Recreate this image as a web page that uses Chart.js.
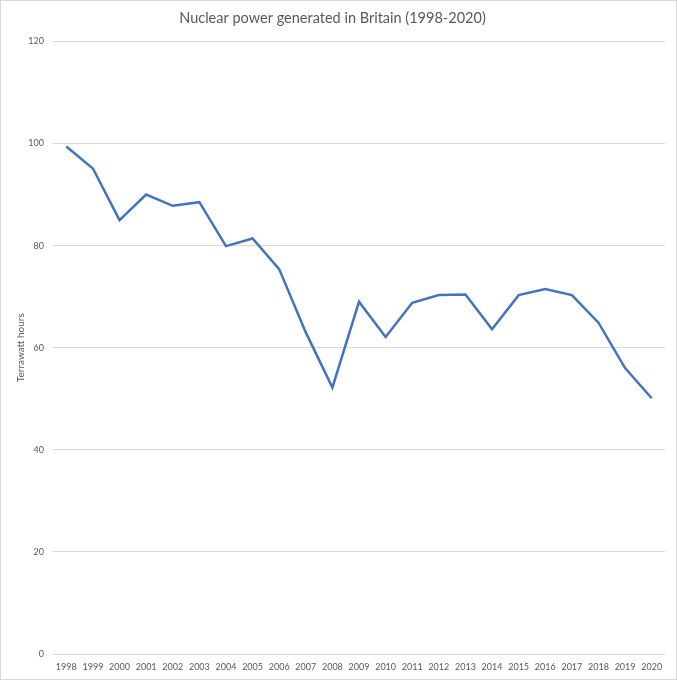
<!DOCTYPE html>
<html>
<head>
<meta charset="utf-8">
<script src="https://cdn.jsdelivr.net/npm/chart.js@4"></script>
<style>
  body { margin: 0; background: #fff; }
  .wrap { position: relative; width: 677px; height: 680px; }
  .frame { position: absolute; left: 0; top: 0; width: 677px; height: 680px; box-sizing: border-box; border: 1px solid #d9d9d9; pointer-events: none; }
</style>
</head>
<body>
<div class="wrap">
  <canvas id="chart" width="677" height="680"></canvas>
  <div class="frame"></div>
</div>
<script>
const years = ['1998', '1999', '2000', '2001', '2002', '2003', '2004', '2005', '2006', '2007', '2008',
    '2009', '2010', '2011', '2012', '2013', '2014', '2015', '2016', '2017', '2018', '2019', '2020'];
const terawattHours = [99.4, 95.1, 85.0, 90.0, 87.8, 88.5, 79.9, 81.4, 75.4, 63.0, 52.2,
    69.0, 62.1, 68.8, 70.3, 70.4, 63.6, 70.3, 71.5, 70.3, 64.9, 56.0, 50.1];
const yTicks = [0, 20, 40, 60, 80, 100, 120];

const fontFamily = 'Lato, "Open Sans", sans-serif';
const textColor = '#595959';

new Chart(document.getElementById('chart').getContext('2d'), {
    type: 'line',
    data: {
        labels: years,
        datasets: [{
            label: 'Nuclear power',
            data: terawattHours,
            borderColor: '#4472c4',
            borderWidth: 2.5,
            pointRadius: 0,
            tension: 0,
            fill: false
        }]
    },
    options: {
        responsive: false,
        animation: false,
        layout: { padding: { left: 0, right: 12, top: 8, bottom: 6 } },
        plugins: {
            legend: { display: false },
            tooltip: { enabled: false },
            title: {
                display: true,
                text: 'Nuclear power generated in Britain (1998-2020)',
                color: textColor,
                font: { family: fontFamily, size: 14.5, weight: 'normal' },
                padding: { top: 2, bottom: 14 }
            }
        },
        scales: {
            x: {
                offset: true,
                grid: { display: false, drawTicks: false },
                border: { display: false },
                ticks: {
                    color: textColor,
                    font: { family: fontFamily, size: 9 },
                    maxRotation: 0,
                    autoSkip: false,
                    padding: 8
                },
                afterFit: scale => { scale.height = 20; }
            },
            y: {
                min: 0,
                max: 120,
                afterBuildTicks: scale => { scale.ticks = yTicks.map(v => ({ value: v })); },
                grid: { color: '#d9d9d9', drawTicks: false },
                border: { display: false },
                ticks: {
                    color: textColor,
                    font: { family: fontFamily, size: 9 },
                    padding: 9
                },
                title: {
                    display: true,
                    text: 'Terrawatt hours',
                    color: textColor,
                    font: { family: fontFamily, size: 10 },
                    padding: { top: 15, bottom: 0 }
                },
                afterFit: scale => { scale.width = 53; }
            }
        }
    }
});
</script>
</body>
</html>
